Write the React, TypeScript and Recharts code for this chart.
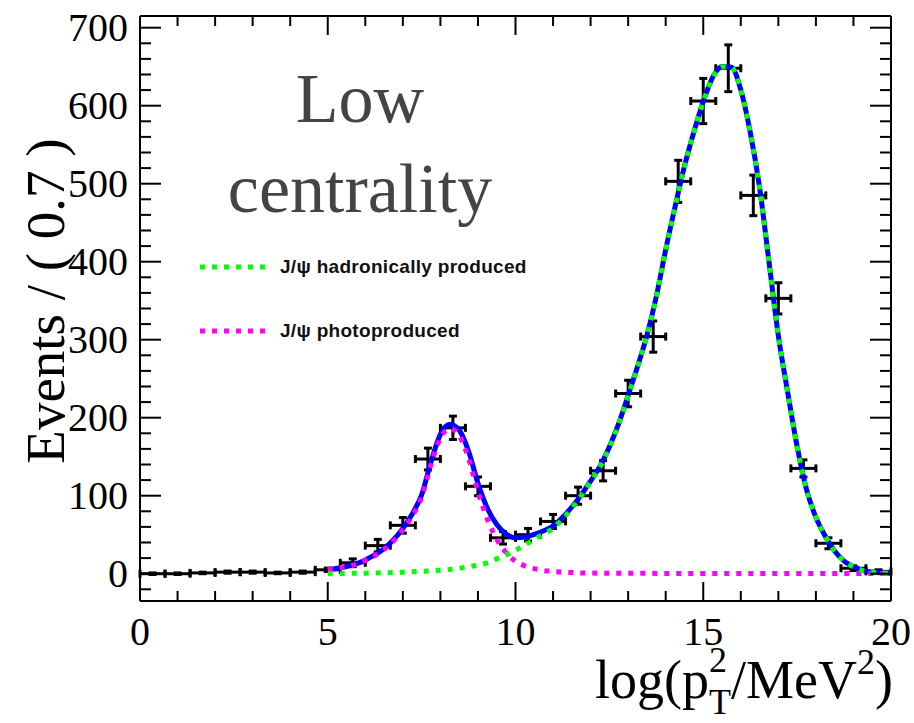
import React from 'react';
import { ComposedChart, Line, Scatter, XAxis, YAxis, ErrorBar, Legend } from 'recharts';

// ---- measured histogram (bin width 20/30) ----
const binCenters = [0.333, 1.0, 1.667, 2.333, 3.0, 3.667, 4.333, 5.0, 5.667, 6.333, 7.0, 7.667, 8.333, 9.0, 9.667, 10.333, 11.0, 11.667, 12.333, 13.0, 13.667, 14.333, 15.0, 15.667, 16.333, 17.0, 17.667, 18.333, 19.0, 19.667];
const binCounts = [0, 0, 1, 2, 2, 1, 2, 5, 14, 36, 62, 147, 187, 112, 46, 50, 67, 100, 132, 231, 304, 503, 606, 648, 485, 353, 135, 39, 7, 3];
const binErrors = [1, 1, 1, 1.4, 1.4, 1, 1.4, 2.2, 5, 8, 10, 14, 15, 12, 8, 8, 9, 11, 13, 17, 20, 27, 29, 30, 26, 20, 11, 7, 3, 2];
const binHalfWidth = 0.333;

// ---- fit curves ----
const curveX = [5, 5.25, 5.5, 5.75, 6, 6.25, 6.5, 6.75, 7, 7.25, 7.5, 7.75, 8, 8.25, 8.5, 8.75, 9, 9.25, 9.5, 9.75, 10, 10.25, 10.5, 10.75, 11, 11.25, 11.5, 11.75, 12, 12.25, 12.5, 12.75, 13, 13.25, 13.5, 13.75, 14, 14.25, 14.5, 14.75, 15, 15.25, 15.5, 15.75, 16, 16.25, 16.5, 16.75, 17, 17.25, 17.5, 17.75, 18, 18.25, 18.5, 18.75, 19, 19.25, 19.5, 19.75, 20];
const totalFit = [5, 7, 9.3, 12.5, 17.7, 24, 32.2, 43.5, 58, 76.5, 101, 143.5, 178.5, 191.5, 184, 157, 116, 84, 63, 51, 46, 47, 50.5, 55, 61, 72, 85.5, 101, 118.8, 137.7, 162.6, 192.6, 228.5, 265.5, 305.5, 355.4, 415.4, 470.4, 522.4, 566.3, 605.3, 636.3, 650.3, 649.3, 620.3, 566.2, 495.2, 400.2, 305.2, 232.2, 163.2, 108.2, 72.2, 48.1, 29.1, 16.1, 9.1, 4.1, 2.1, 1.1, 0.6];
const hadronicFit = [0, 0, 0.3, 0.5, 0.7, 1, 1.2, 1.5, 2, 2.5, 3, 3.5, 4.5, 5.5, 7, 9, 11, 14, 19, 24, 30, 37, 44, 51, 58, 70, 84, 100, 118, 137, 162, 192, 228, 265, 305, 355, 415, 470, 522, 566, 605, 636, 650, 649, 620, 566, 495, 400, 305, 232, 163, 108, 72, 48, 29, 16, 9, 4, 2, 1, 0.5];
const photoFit = [5, 7, 9, 12, 17, 23, 31, 42, 56, 74, 98, 140, 174, 186, 177, 148, 105, 70, 44, 27, 16, 10, 6.5, 4, 3, 2, 1.5, 1, 0.8, 0.7, 0.6, 0.6, 0.5, 0.5, 0.5, 0.4, 0.4, 0.4, 0.4, 0.3, 0.3, 0.3, 0.3, 0.3, 0.3, 0.2, 0.2, 0.2, 0.2, 0.2, 0.2, 0.2, 0.2, 0.1, 0.1, 0.1, 0.1, 0.1, 0.1, 0.1, 0.1];

// ---- axes ----
const xTicks = [0, 1, 2, 3, 4, 5, 6, 7, 8, 9, 10, 11, 12, 13, 14, 15, 16, 17, 18, 19, 20];
const yTicks = [-20, 0, 20, 40, 60, 80, 100, 120, 140, 160, 180, 200, 220, 240, 260, 280, 300, 320, 340, 360, 380, 400, 420, 440, 460, 480, 500, 520, 540, 560, 580, 600, 620, 640, 660, 680, 700];
const xDomain: [number, number] = [0, 20];
const yDomain: [number, number] = [-35, 715];

const nameTotal = 'Total fit';
const nameHadronic = 'J/\u03C8 hadronically produced';
const namePhoto = 'J/\u03C8 photoproduced';
const titleLines = ['Low', 'centrality'];

const pointRows = binCenters.map((x, i) => ({ x, y: binCounts[i], ey: binErrors[i], ex: binHalfWidth }));
const curveRows = curveX.map((x, i) => ({ x, total: totalFit[i], hadr: hadronicFit[i], photo: photoFit[i] }));

const SERIF = '"Liberation Serif", "Times New Roman", serif';
const SANS = '"Liberation Sans", Arial, sans-serif';

const XMAJ = 19, XMIN = 10, YMAJ = 21, YMIN = 11;

const BottomTick = (p: any) => {
  const v = p.payload.value;
  const major = v % 5 === 0;
  return (
    <g>
      <line x1={p.x} y1={p.y} x2={p.x} y2={p.y - (major ? XMAJ : XMIN)} stroke="#000" strokeWidth={2} />
      {major && (
        <text x={p.x} y={p.y + 44} textAnchor="middle" fontFamily={SERIF} fontSize={40} fill="#000">{v}</text>
      )}
    </g>
  );
};
const TopTick = (p: any) => {
  const major = p.payload.value % 5 === 0;
  return <line x1={p.x} y1={p.y} x2={p.x} y2={p.y + (major ? XMAJ : XMIN)} stroke="#000" strokeWidth={2} />;
};
const LeftTick = (p: any) => {
  const v = p.payload.value;
  const major = v % 100 === 0;
  return (
    <g>
      <line x1={p.x} y1={p.y} x2={p.x + (major ? YMAJ : YMIN)} y2={p.y} stroke="#000" strokeWidth={2} />
      {major && v >= 0 && (
        <text x={p.x - 12} y={p.y + 13} textAnchor="end" fontFamily={SERIF} fontSize={40} fill="#000">{v}</text>
      )}
    </g>
  );
};
const RightTick = (p: any) => {
  const major = p.payload.value % 100 === 0;
  return <line x1={p.x} y1={p.y} x2={p.x - (major ? YMAJ : YMIN)} y2={p.y} stroke="#000" strokeWidth={2} />;
};

const XTitle = (props: any) => {
  const vb = props.viewBox || { x: 140, y: 601, width: 751, height: 122 };
  const right = vb.x + vb.width;
  return (
    <text x={right - 296} y={vb.y + 97} fontFamily={SERIF} fontSize={54} fill="#000">
      <tspan>log(p</tspan>
      <tspan dy={-26} fontSize={36}>2</tspan>
      <tspan dx={-18} dy={42} fontSize={36}>T</tspan>
      <tspan dy={-16}>/MeV</tspan>
      <tspan dy={-24} fontSize={36}>2</tspan>
      <tspan dy={24}>)</tspan>
    </text>
  );
};
const YTitle = (props: any) => {
  const vb = props.viewBox || { x: 0, y: 16, width: 140, height: 585 };
  const cx = vb.x + 64;
  const cy = vb.y + 285;
  return (
    <text x={cx} y={cy} transform={`rotate(-90, ${cx}, ${cy})`} textAnchor="middle" fontFamily={SERIF} fontSize={55} fill="#000">
      Events / ( 0.7 )
    </text>
  );
};

const legendNames = [nameHadronic, namePhoto];
const renderLegend = (props: any) => {
  const items = (props.payload || []).filter((it: any) => legendNames.includes(it.value));
  return (
    <div>
      {items.map((it: any) => (
        <div key={it.value} style={{ display: 'flex', alignItems: 'center', height: 64 }}>
          <svg width={70} height={8} style={{ display: 'block' }}>
            <line x1={0} y1={4} x2={66} y2={4} stroke={it.color} strokeWidth={5} strokeDasharray="5 7" />
          </svg>
          <span style={{ marginLeft: 10, fontFamily: SANS, fontWeight: 'bold', fontSize: 19, letterSpacing: 0.3, color: '#111', whiteSpace: 'nowrap' }}>{it.value}</span>
        </div>
      ))}
    </div>
  );
};

export default function App() {
  return (
    <div style={{ position: 'absolute', left: 0, top: 0, width: 914, height: 723, background: '#fff' }}>
      <ComposedChart width={914} height={723} margin={{ top: 0, right: 0, bottom: 0, left: 0 }}>
        <XAxis xAxisId={0} dataKey="x" type="number" domain={xDomain} ticks={xTicks} interval={0} allowDataOverflow
          height={122} tickSize={0} tickMargin={0} tickLine={false} axisLine={{ stroke: '#000', strokeWidth: 2 }}
          tick={<BottomTick />} label={<XTitle />} />
        <XAxis xAxisId="top" orientation="top" dataKey="x" type="number" domain={xDomain} ticks={xTicks} interval={0} allowDataOverflow
          height={16} tickSize={0} tickMargin={0} tickLine={false} axisLine={{ stroke: '#000', strokeWidth: 2 }}
          tick={<TopTick />} />
        <YAxis yAxisId={0} dataKey="y" type="number" domain={yDomain} ticks={yTicks} interval={0} allowDataOverflow
          width={140} tickSize={0} tickMargin={0} tickLine={false} axisLine={{ stroke: '#000', strokeWidth: 2 }}
          tick={<LeftTick />} label={<YTitle />} />
        <YAxis yAxisId="right" orientation="right" dataKey="y" type="number" domain={yDomain} ticks={yTicks} interval={0} allowDataOverflow
          width={23} tickSize={0} tickMargin={0} tickLine={false} axisLine={{ stroke: '#000', strokeWidth: 2 }}
          tick={<RightTick />} />
        <Legend layout="vertical" align="center" verticalAlign="middle" content={renderLegend}
          wrapperStyle={{ left: 200, top: 235, width: 420, height: 128 }} />
        <Scatter data={pointRows} fill="#000" shape={() => <g />} isAnimationActive={false} legendType="none">
          <ErrorBar dataKey="ey" direction="y" width={4} stroke="#000" strokeWidth={3} />
          <ErrorBar dataKey="ex" direction="x" width={4} stroke="#000" strokeWidth={3} />
        </Scatter>
        <Line data={curveRows} dataKey="total" name={nameTotal} type="monotone" stroke="#0000ff" strokeWidth={5} dot={false} isAnimationActive={false} legendType="none" />
        <Line data={curveRows} dataKey="photo" name={namePhoto} type="monotone" stroke="#ff00ff" strokeWidth={5} strokeDasharray="5 7" dot={false} isAnimationActive={false} />
        <Line data={curveRows} dataKey="hadr" name={nameHadronic} type="monotone" stroke="#00ff00" strokeWidth={5} strokeDasharray="5 7" dot={false} isAnimationActive={false} />
      </ComposedChart>
      <svg width={914} height={723} style={{ position: 'absolute', left: 0, top: 0, pointerEvents: 'none' }}>
        <text x={360} y={122} textAnchor="middle" fontFamily={SERIF} fontSize={70} fill="#444">{titleLines[0]}</text>
        <text x={360} y={212} textAnchor="middle" fontFamily={SERIF} fontSize={70} fill="#444">{titleLines[1]}</text>
      </svg>
    </div>
  );
}
